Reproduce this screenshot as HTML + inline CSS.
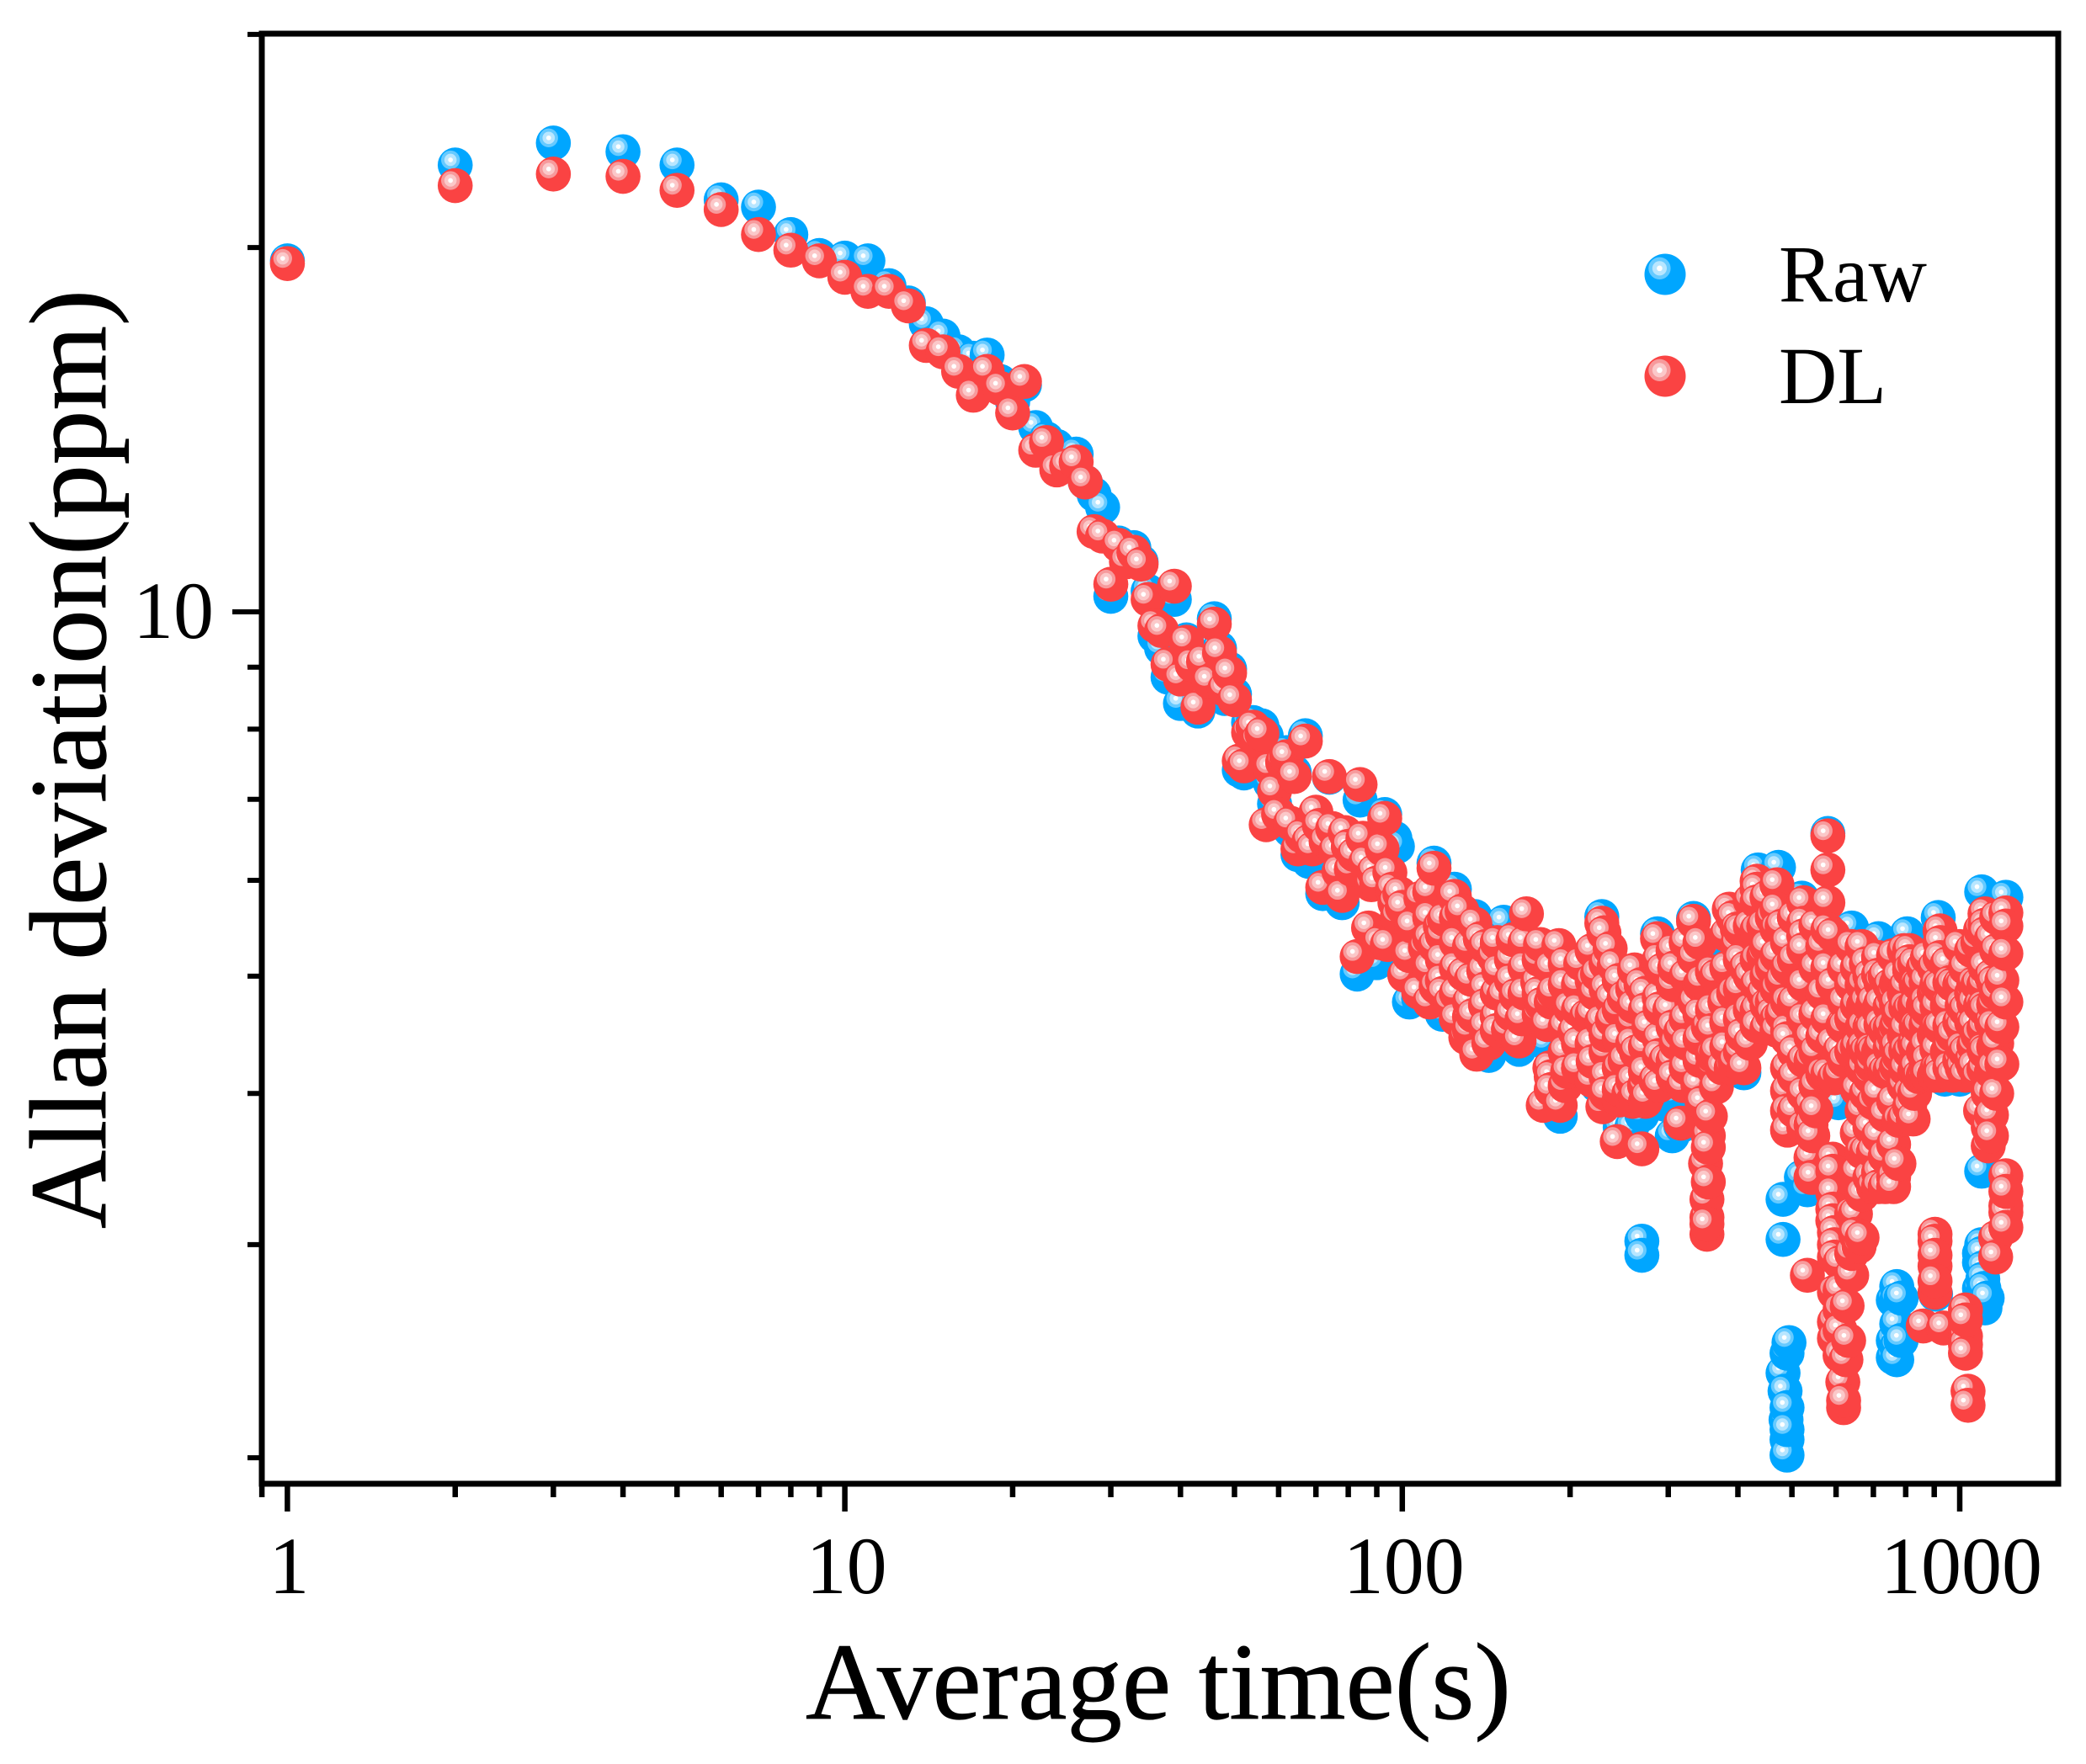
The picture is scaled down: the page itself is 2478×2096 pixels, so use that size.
<!DOCTYPE html>
<html lang="en">
<head>
<meta charset="utf-8">
<title>Allan deviation chart</title>
<style>
html,body{margin:0;padding:0;background:#fff;}
svg{display:block;}
text{font-family:"Liberation Serif","Times New Roman",serif;fill:#000;}
</style>
</head>
<body>
<svg id="chart" xmlns="http://www.w3.org/2000/svg" width="2478" height="2096" viewBox="0 0 2478 2096">
  <rect x="0" y="0" width="2478" height="2096" fill="#fff"/>
  <g id="raw-layer"></g>
  <g id="dl-layer"></g>
  <rect x="311" y="40" width="2134" height="1723" fill="none" stroke="#000" stroke-width="7"/>
  <g id="x-ticks"></g>
  <g id="y-ticks"></g>
  <g id="x-labels"></g>
  <g id="y-labels"></g>
  <text x="957" y="2042" font-size="130" stroke="#000" stroke-width="0.8" textLength="838" lengthAdjust="spacingAndGlyphs">Average time(s)</text>
  <text x="0" y="0" transform="translate(125 1460) rotate(-90)" font-size="130" stroke="#000" stroke-width="0.8" textLength="1116" lengthAdjust="spacingAndGlyphs">Allan deviation(ppm)</text>
  <g id="legend">
    <g id="legend-raw-marker"></g>
    <text x="2113" y="358" font-size="96">Raw</text>
    <g id="legend-dl-marker"></g>
    <text x="2113" y="479" font-size="96">DL</text>
  </g>
</svg>
<script>
const xMajorTicks = [1, 10, 100, 1000];
const xMinorTicks = [0.9, 2, 3, 4, 5, 6, 7, 8, 9, 20, 30, 40, 50, 60, 70, 80, 90, 200, 300, 400, 500, 600, 700, 800, 900];
const yMajorTicks = [10];
const yMinorTicks = [2, 3, 4, 5, 6, 7, 8, 9, 20, 30];

const rawTau = [
1,2,3,4,5,6,7,8,9,10,11,12,13,14,15,16,17,18,19,20,
21,22,23,24,25,26,27,28,29,30,31,32,33,34,35,36,37,38,39,40,
41,42,43,44,45,46,47,48,49,50,51,52,53,54,55,56,57,58,59,60,
61,62,63,64,65,66,67,68,69,70,71,72,73,74,75,76,77,78,79,80,
83,84,90,93,97,98,103,107,114,118,124,135,143,152,162,181,192,224,246,258,
269,295,308,305,316,354,360,410,228,287,333,
435,473,521,580,606,640,715,805,915,1095,1210,940,1000,905,
1095,1095,1095,1100,1100,1105,1110,
771,771,771,771,771,
494,482,486,488,490,490,482,482,269,269,533,520,
760,760,760,785,785,
1085,1085,1085,1120,
490,490,490
];
const rawPpm = [
19.5,23.4,24.4,24.0,23.4,21.9,21.6,20.5,19.7,19.6,19.5,18.6,18.0,17.3,16.9,16.4,16.2,16.3,15.5,14.9,
15.4,14.2,13.9,13.7,13.4,13.5,12.8,12.5,12.2,10.3,11.4,11.1,11.3,11.0,10.4,9.55,9.33,8.83,10.24,8.4,
9.48,9.12,8.28,9.0,8.9,9.87,9.33,8.48,8.97,8.55,7.4,7.36,8.1,8.1,7.9,8.05,7.9,7.22,6.94,6.7,
7.5,7.65,6.6,7.37,6.3,6.5,7.9,6.22,6.3,6.62,6.6,5.85,6.4,7.3,6.55,6.3,6.0,5.75,6.5,6.3,
5.02,6.99,5.13,6.8,6.5,6.4,4.76,4.79,6.2,4.65,5.9,5.6,4.3,5.54,4.35,4.4,3.83,4.06,3.75,3.75,
3.84,3.92,3.98,3.69,3.76,4.33,5.25,4.16,5.6,5.42,5.58,
6.12,6.15,5.8,6.56,3.93,5.48,5.37,5.42,5.59,5.87,5.81,4.11,4.11,2.73,
3.45,3.0,2.95,2.87,2.81,2.76,2.66,
2.77,2.7,2.58,2.47,2.41,
2.49,2.35,2.27,2.15,2.07,2.01,3.27,3.03,3.02,2.94,3.33,3.41,
2.7,2.5,2.42,2.71,2.5,
2.9,2.76,2.95,2.71,
2.44,2.2,2.11
];

const dlTau = [
1,2,3,4,5,6,7,8,9,10,11,12,13,14,15,16,17,18,19,20,
21,22,23,24,25,26,27,28,29,30,31,32,33,34,35,36,37,38,39,40,
41,42,43,44,45,46,47,48,49,50,51,52,53,54,55,56,57,58,59,60,
61,62,63,64,65,66,67,68,69,70,71,72,73,74,75,76,77,78,79,80,
81,82,83,84,85,86,87,88,89,90,91,92,93,94,95,96,97,98,99,100,
101,103,104,107,108,110,112,114,114.5,115,117,118.5,119,122,124,128,129,130,132,133,
134,135,136,138,140,141,143,146,148,149,152,155,158,160,162,164,167,175,176,177,
178,179,182,184,187,191,192,198,200,204,209,214,220,222,224,228,229,230,232,236,
237,238,228,240,243,245,251,260,261,263,268,269,272,277,287,293,297,302,308,316,
255,262,275,285,319,324,333,334,335,339,342,345,350,352,352,354,354,357,366,366,
366,379,386,389,392,393,399,399,407,414,421,316,345,360,375,395,410,250,290,310,
433,433,433,433,433,433,433,433,
451,451,451,451,451,
470,470,470,470,470,470,470,
491,491,491,491,491,491,491,491,491,
525,525,525,525,525,525,525,525,525,
541,541,541,541,541,541,
545,545,
568,568,568,568,
580,580,580,580,580,580,580,
592,592,592,592,592,
596,596,596,596,596,596,596,
610,610,617,617,619,628,632,625,640,533,
650,650,
640,640,640,640,
668,668,668,668,668,668,668,668,
690,690,690,690,690,
715,715,715,715,715,715,715,715,
761,761,761,761,761,761,761,761,
795,795,795,795,795,
813,813,813,813,813,813,813,
825,845,845,845,
875,875,875,875,
922,922,922,922,922,922,922,
971,971,971,
1024,1024,1024,1024,
1078,1078,1078,1078,
1110,1110,1110,1110,1110,1110,
1125,1125,1125,
1165,1165,1165,1165,1165,
1210,1210,1210,1210,
1210,1210,1210,1210,1160,1160,
903,903,903,903,
860,935,1024,1024,1024,1024,1035,1035,
112,112,112,112,
118,118,118,
125,125,125,125,125,
132,132,132,
141,141,141,
148,148,148,
157,157,157,
166,166,166,
176,176,
185,185,185,185,
196,196,196,196,196,
207,207,207,207,
219,219,219,219,219,
232,232,232,232,232,
245,245,245,245,245,
259,259,259,259,259,
273,273,273,273,273,
289,289,289,289,289,
306,306,306,306,306,
323,323,323,323,323,
342,342,342,342,
360,360,360,360,
382,382,382,382,
404,404,404,404,404,
421,421,421,421,
445,445,445,
461,461,461,461,
480,480,480,
505,505,505,505,505,505,
552,552,552,552,552,552,
592,592,592,
621,621,621,621,
655,655,655,655,655,655,
680,680,680,680,680,
700,700,700,700,700,
735,735,735,735,735,735,
778,778,778,778,778,
830,830,830,830,830,
860,860,860,860,
900,900,900,900,
950,950,950,
1000,1000,1000,1000,
1050,1050,1050,1050,
1090,1090,1090,
1140,1140,1140,1140,1140,1140,
1190,1190,1190,
610,610,610,610,610,
640,640,660,619,
352,352,354,354,
903,903,1210,1024,
672,672,672,672,672,
695,695,695,695,695,
722,722,722,722,722,
750,750,750,750,750,
770,770,770,770,770,
800,800,800,800,800,
835,835,835,835,835,
870,870,870,870,870,
910,910,910,910,910,
960,960,960,960,960,
1010,1010,1010,1010,1010,
1060,1060,1060,1060,1060,
1105,1105,1105,1105,1105,
1150,1150,1150,1150,1150
];
const dlPpm = [
19.4,22.5,23.0,22.9,22.3,21.5,20.5,19.9,19.5,18.9,18.4,18.4,17.9,16.6,16.4,15.8,15.1,15.8,15.3,14.6,
15.5,13.6,13.8,13.1,13.2,13.3,12.8,11.65,11.55,10.54,11.35,11.0,11.2,10.95,10.24,9.74,9.65,9.05,10.5,8.8,
9.44,9.04,8.34,9.1,8.76,9.77,9.25,8.63,8.9,8.46,7.53,7.46,7.95,8.03,7.83,7.93,6.67,7.42,7.11,6.8,
7.51,7.59,6.69,7.31,6.37,6.53,7.82,6.46,6.37,6.83,6.66,5.92,6.46,7.31,6.62,6.35,6.1,5.83,6.57,6.4,
6.13,6.3,5.19,7.2,6.5,6.21,5.48,5.95,6.1,5.97,5.33,6.37,6.75,5.31,6.09,5.9,5.75,5.6,5.85,5.7,
5.01,5.2,5.5,4.85,5.8,5.28,4.76,6.14,5.3,4.9,5.5,4.84,5.57,4.75,5.82,5.66,5.02,4.45,4.63,4.97,
4.64,5.52,4.31,5.37,5.05,4.88,4.4,5.19,4.63,5.05,4.82,4.52,5.36,4.82,4.42,4.61,5.63,4.94,4.84,5.31,
4.74,3.91,4.56,4.2,4.85,5.3,3.91,4.17,4.71,4.5,5.12,4.63,4.25,4.84,5.02,5.53,3.9,5.43,4.33,5.27,
4.79,4.6,4.59,5.1,3.65,3.95,4.26,4.72,5.06,4.33,4.92,3.6,4.06,4.54,5.37,5.06,4.26,4.69,5.08,3.78,
4.0,3.98,3.97,4.1,4.06,4.4,5.55,5.18,4.76,4.07,4.26,3.93,3.5,3.16,3.06,3.38,4.54,3.83,4.05,5.0,
4.33,4.76,5.68,4.2,5.59,4.84,5.47,5.31,4.47,5.08,4.69,4.5,4.95,4.2,4.2,4.25,4.2,4.8,4.7,4.4,
5.99,5.9,5.76,5.46,5.16,4.92,4.69,4.55,
5.81,5.29,5.0,4.73,4.53,
5.95,5.68,5.47,5.2,4.88,4.61,4.51,
5.33,5.08,4.76,4.51,4.44,4.2,4.02,3.87,3.73,
5.75,5.53,5.4,5.26,4.92,4.61,4.26,4.0,3.75,
4.45,4.26,3.91,3.77,3.54,3.41,
3.69,3.41,
5.29,4.84,4.46,4.15,
6.53,6.12,5.75,5.46,5.08,4.61,4.15,
3.53,3.45,3.31,3.21,3.14,
4.12,3.07,3.0,2.93,2.74,2.59,2.51,
4.34,4.15,4.55,2.31,2.2,2.67,2.5,2.41,2.83,2.83,
3.18,3.06,
5.29,4.92,4.61,4.33,
5.29,4.92,4.54,4.2,3.87,3.58,3.3,3.04,
5.0,4.54,4.13,3.75,3.41,
5.18,5.01,4.69,4.33,4.0,3.69,3.44,3.35,
5.2,4.84,4.47,4.13,3.94,3.63,3.41,3.35,
5.25,4.84,4.47,4.06,3.81,
5.25,5.14,5.06,4.69,4.33,4.0,3.9,
3.81,4.92,4.54,4.13,
5.18,4.69,4.26,4.14,
5.45,5.33,5.18,4.9,4.54,4.2,4.14,
4.92,4.47,4.14,
5.08,4.69,4.33,4.14,
5.33,4.92,4.47,4.13,
5.63,5.51,5.42,5.09,4.69,4.33,
4.0,3.75,3.62,
5.59,5.25,4.84,4.4,4.0,
5.64,5.5,5.22,4.76,
3.42,3.23,3.19,3.1,3.04,2.93,
3.06,3.02,2.88,2.74,
2.57,2.56,2.65,2.52,2.48,2.44,2.27,2.21,
5.87,5.59,5.37,5.08,
5.41,5.16,4.96,
5.59,5.33,5.08,4.84,4.61,
5.29,4.76,4.51,
5.29,4.73,4.54,
5.33,4.84,4.51,
5.16,4.96,4.65,
5.33,5.08,4.84,
5.16,4.65,
5.08,4.76,4.13,4.03,
5.12,4.92,4.54,4.33,4.06,
4.92,4.69,4.4,4.2,
5.25,4.96,4.65,4.4,4.1,
5.12,4.88,4.47,4.13,4.0,
4.96,4.69,4.44,4.2,4.03,
4.88,4.58,4.4,4.1,3.94,
4.84,4.69,4.37,4.17,3.94,
5.16,4.8,4.44,4.3,4.06,
5.25,4.92,4.54,4.26,4.13,
5.33,5.0,4.61,4.33,4.2,
5.33,4.92,4.65,4.44,
5.04,4.69,4.51,4.3,
5.41,5.08,4.58,4.37,
5.46,5.16,4.88,4.61,4.33,
5.77,5.5,5.0,4.4,
5.5,5.2,4.84,
5.59,5.08,4.76,4.65,
5.5,4.96,4.65,
5.59,5.16,4.76,4.33,4.13,3.87,
5.5,5.08,4.65,4.33,4.06,3.87,
5.41,4.92,4.4,
5.08,4.76,4.54,4.26,
5.08,4.73,4.37,4.03,3.71,3.44,
5.12,4.76,4.33,4.0,3.58,
4.76,4.33,3.93,3.58,3.35,
5.0,4.51,4.17,3.84,3.55,3.35,
5.0,4.65,4.3,3.8,3.5,
5.12,4.73,4.4,4.17,4.0,
5.08,4.73,4.33,4.14,
5.08,4.84,4.47,4.14,
5.12,4.73,4.33,
5.29,4.92,4.58,4.26,
5.25,4.84,4.58,4.26,
5.46,4.73,3.87,
5.37,5.0,4.58,4.17,3.84,3.69,
4.96,4.54,4.23,
2.9,2.75,2.65,2.55,2.43,
3.18,2.95,2.99,2.23,
3.27,3.12,3.69,3.61,
2.94,2.8,3.32,2.6,
4.92,4.73,4.54,4.37,4.2,
4.9,4.7,4.52,4.35,4.22,
4.94,4.75,4.56,4.38,4.2,
4.91,4.72,4.53,4.36,4.18,
4.93,4.74,4.55,4.37,4.21,
4.9,4.71,4.52,4.34,4.19,
4.92,4.73,4.54,4.36,4.2,
4.95,4.76,4.56,4.38,4.21,
4.92,4.72,4.53,4.35,4.19,
4.94,4.74,4.55,4.37,4.2,
4.91,4.73,4.54,4.36,4.2,
4.93,4.75,4.56,4.38,4.21,
4.92,4.72,4.53,4.35,4.19,
4.94,4.74,4.55,4.37,4.2
];

const SVG_NS = 'http://www.w3.org/2000/svg';

function xScale(tau) {
  return 341.4 + 662.2 * Math.log10(tau);
}
function yScale(ppm) {
  return 727 - 1438 * Math.log10(ppm / 10);
}

function makeEl(tag, attrs) {
  const el = document.createElementNS(SVG_NS, tag);
  for (const k in attrs) el.setAttribute(k, attrs[k]);
  return el;
}

const palettes = {
  raw: ['#00a6ff', '#66caff', '#b8e6ff', '#ffffff'],
  dl: ['#fa4343', '#f79a9c', '#fbc8c9', '#ffffff']
};

function addBall(parent, cx, cy, r, series) {
  const colors = palettes[series];
  const k = r / 20.5;
  const hx = cx - 5.5 * k;
  const hy = cy - 6 * k;
  parent.appendChild(makeEl('circle', {cx: cx, cy: cy, r: r, fill: colors[0]}));
  parent.appendChild(makeEl('circle', {cx: hx, cy: hy, r: 11 * k, fill: colors[1]}));
  parent.appendChild(makeEl('circle', {cx: hx, cy: hy, r: 7.2 * k, fill: colors[2]}));
  parent.appendChild(makeEl('circle', {cx: hx, cy: hy, r: 2.8 * k, fill: colors[3]}));
}

function orderByTau(taus) {
  return taus.map(function (t, i) { return i; }).sort(function (a, b) {
    return taus[a] - taus[b];
  });
}

const rawLayer = document.getElementById('raw-layer');
orderByTau(rawTau).forEach(function (i) {
  const g = makeEl('g', {});
  
  
  addBall(g, xScale(rawTau[i]), yScale(rawPpm[i]), 20.8, 'raw');
  rawLayer.appendChild(g);
});

const dlLayer = document.getElementById('dl-layer');
orderByTau(dlTau).forEach(function (i) {
  const g = makeEl('g', {});
  
  
  addBall(g, xScale(dlTau[i]), yScale(dlPpm[i]), 20.8, 'dl');
  dlLayer.appendChild(g);
});

addBall(document.getElementById('legend-raw-marker'), 1978, 326, 24.5, 'raw');
addBall(document.getElementById('legend-dl-marker'), 1978, 447, 24.5, 'dl');

const xTickLayer = document.getElementById('x-ticks');
xMajorTicks.forEach(function (t) {
  const line = makeEl('line', {x1: xScale(t), x2: xScale(t), y1: 1763, y2: 1796, stroke: '#000', 'stroke-width': 6.5});
  
  
  xTickLayer.appendChild(line);
});
xMinorTicks.forEach(function (t) {
  const line = makeEl('line', {x1: xScale(t), x2: xScale(t), y1: 1763, y2: 1779, stroke: '#000', 'stroke-width': 6.5});
  
  
  xTickLayer.appendChild(line);
});

const yTickLayer = document.getElementById('y-ticks');
yMajorTicks.forEach(function (v) {
  const line = makeEl('line', {x1: 276, x2: 311, y1: yScale(v), y2: yScale(v), stroke: '#000', 'stroke-width': 6});
  
  
  yTickLayer.appendChild(line);
});
yMinorTicks.forEach(function (v) {
  const line = makeEl('line', {x1: 294, x2: 311, y1: yScale(v), y2: yScale(v), stroke: '#000', 'stroke-width': 6});
  
  
  yTickLayer.appendChild(line);
});

const xLabelLayer = document.getElementById('x-labels');
xMajorTicks.forEach(function (t) {
  const label = makeEl('text', {x: xScale(t) + 2, y: 1893, 'font-size': 96, 'text-anchor': 'middle'});
  
  
  label.textContent = String(t);
  xLabelLayer.appendChild(label);
});

const yLabelLayer = document.getElementById('y-labels');
yMajorTicks.forEach(function (v) {
  const label = makeEl('text', {x: 254, y: yScale(v) + 31, 'font-size': 96, 'text-anchor': 'end'});
  
  
  label.textContent = String(v);
  yLabelLayer.appendChild(label);
});
</script>
</body>
</html>
